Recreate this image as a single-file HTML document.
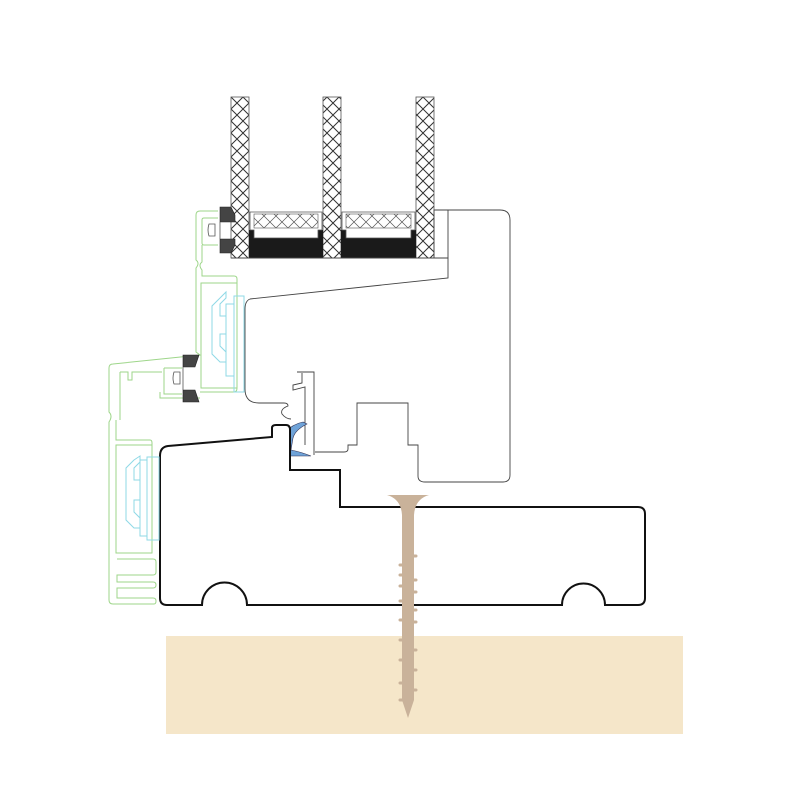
<!DOCTYPE html>
<html><head><meta charset="utf-8"><style>html,body{margin:0;padding:0;background:#fff;}svg{display:block}</style></head>
<body>
<svg width="800" height="800" viewBox="0 0 800 800" xmlns="http://www.w3.org/2000/svg">
<defs>
<pattern id="h" width="12" height="12" patternUnits="userSpaceOnUse" x="231" y="97">
<path d="M0,0 L12,12 M12,0 L0,12" stroke="#333" stroke-width="1"/>
</pattern>
<pattern id="h2" width="12" height="12" patternUnits="userSpaceOnUse">
<path d="M0,0 L12,12 M12,0 L0,12" stroke="#555" stroke-width="0.7"/>
</pattern>
</defs>
<rect width="800" height="800" fill="#fff"/>
<rect x="166" y="636" width="517" height="98" fill="#f5e6c9"/>

<g stroke="#555" stroke-width="0.8">
<rect x="231" y="97" width="18" height="161" fill="url(#h)"/>
<rect x="323" y="97" width="18" height="161" fill="url(#h)"/>
<rect x="416" y="97" width="18" height="161" fill="url(#h)"/>
</g>
<g>
<rect x="249" y="230" width="74" height="28" fill="#1a1a1a"/>
<rect x="341" y="230" width="75" height="28" fill="#1a1a1a"/>
<path d="M250,212 h72 v18 h-4 v8 h-64 v-8 h-4z" fill="#fff" stroke="#555" stroke-width="0.8"/>
<path d="M342,212 h73 v18 h-4 v8 h-65 v-8 h-4z" fill="#fff" stroke="#555" stroke-width="0.8"/>
<rect x="254" y="214" width="64" height="14" fill="url(#h2)" stroke="#555" stroke-width="0.6"/>
<rect x="346" y="214" width="65" height="14" fill="url(#h2)" stroke="#555" stroke-width="0.6"/>
</g>

<g fill="none" stroke="#444" stroke-width="0.9">
<path d="M434,210 h66 q10,0 10,10 v255 q0,7 -7,7 h-78 q-7,0 -7,-6 v-31 h-10 v-42 h-51 v42 h-9 v4 q0,3 -4,3 h-29"/>
<path d="M231,258 H448 V278 L250,299"/>
<rect x="434" y="210" width="14" height="48"/>
<path d="M250,299 q-5,2 -5,10 v80 q0,14 14,14 h25 q4,0 4,3 q-8,3 -6,8 q4,5 9,5"/>
<path d="M297,372 h17 v83 M302,373 v10 l-9,2 v5 l12,-3 v58"/>
</g>
<path d="M285,432 q8,-8 18,-10 l4,2 q-12,6 -14,14 l-2,12 q10,2 20,6 h-22 q-4,-8 -8,-14 q-4,-4 4,-10z" fill="#6fa3d8" stroke="#335" stroke-width="0.6"/>

<path d="M168,446 L272,437 V428 q0,-3 4,-3 h10 q4,0 4,5 V470 H340 V507 H638 q7,0 7,7 V598 q0,7 -7,7 H605 a21.5,21.5 0 0 0 -43,0 H247 a22.5,22.5 0 0 0 -45,0 H167 q-7,0 -7,-7 V456 q0,-9 8,-10z" fill="#fff" stroke="#111" stroke-width="2"/>

<!-- green profile -->
<g fill="none" stroke="#9ed68a" stroke-width="1">
<!-- upper sash-bead profile -->
<path d="M218,211 H200 q-4,0 -4,4 V260 q4,3 0,8 V352 L200,355 L113,364 q-4,0 -4,4 V412 q4,4 0,10 V600 q0,4 4,4 H154 q2,0 2,-3 q0,-3 -3,-3 H117 V588 H153 q3,0 3,-3 q0,-3 -3,-3 H117 V575 H153 q3,0 3,-3 V562 q0,-3 -3,-3 H117"/>
<path d="M218,218 H204 q-2,0 -2,2 V243 q0,2 2,2 H218"/>
<path d="M202,245 V262 q-4,3 0,8 V276 H234 q3,0 3,3 V388 q0,4 -3,4 H200"/>
<rect x="201" y="283" width="36" height="105"/>
<path d="M116,420 V440 H150 q2,0 2,3 V455"/>
<rect x="116" y="445" width="36" height="108"/>
<path d="M120,372 h8 v8 h4 v-8 h30 M164,368 h18 M164,368 V394 H182"/>
<path d="M120,372 V420"/>
<path d="M160,392 V398 H200"/>
</g>
<!-- cyan thermal parts -->
<g fill="none" stroke="#8fd9e6" stroke-width="1">
<path d="M220,298 l-8,8 v48 l8,8 h6 v-10 l-6,-6 v-12 h6 v-18 h-6 v-12 l6,-6 v-6z"/>
<rect x="226" y="304" width="8" height="72"/>
<rect x="234" y="296" width="10" height="96"/>
<path d="M134,460 l-8,8 v52 l8,8 h6 v-10 l-6,-6 v-12 h6 v-20 h-6 v-12 l6,-6 v-6z"/>
<rect x="140" y="460" width="7" height="76"/>
<rect x="147" y="457" width="12" height="83"/>
</g>
<!-- dark gaskets -->
<g fill="#444" stroke="#222" stroke-width="0.6">
<path d="M220,207 h11 l4,8 v7 h-15z"/>
<path d="M220,253 h11 l4,-8 v-6 h-15z"/>
<path d="M183,355 h16 l-4,12 h-12z"/>
<path d="M183,402 h16 l-4,-12 h-12z"/>
</g>
<path d="M209,224 q-2,6 0,12 h6 v-12z M174,372 q-2,6 0,12 h6 v-12z" fill="#fff" stroke="#555" stroke-width="0.8"/>
<path d="M220,222 V239 M183,367 V390" stroke="#555" stroke-width="0.8"/>

<!-- screw -->
<g fill="#c9b29a">
<path d="M387,495 H429 q-14,4 -15,20 V700 L408,718 L402,700 V515 q-1,-16 -15,-20z"/>
<g stroke="#c9b29a" stroke-width="3" stroke-linecap="round">
<path d="M400,565 h4 M412,556 h4 M400,575 h4 M412,580 h4 M400,586 h4 M412,592 h4 M400,601 h4 M412,610 h4 M400,620 h4 M412,622 h4 M400,640 h4 M412,650 h4 M400,660 h4 M412,670 h4 M400,683 h4 M412,690 h4 M400,700 h4"/>
</g>
</g>
</svg>
</body></html>
